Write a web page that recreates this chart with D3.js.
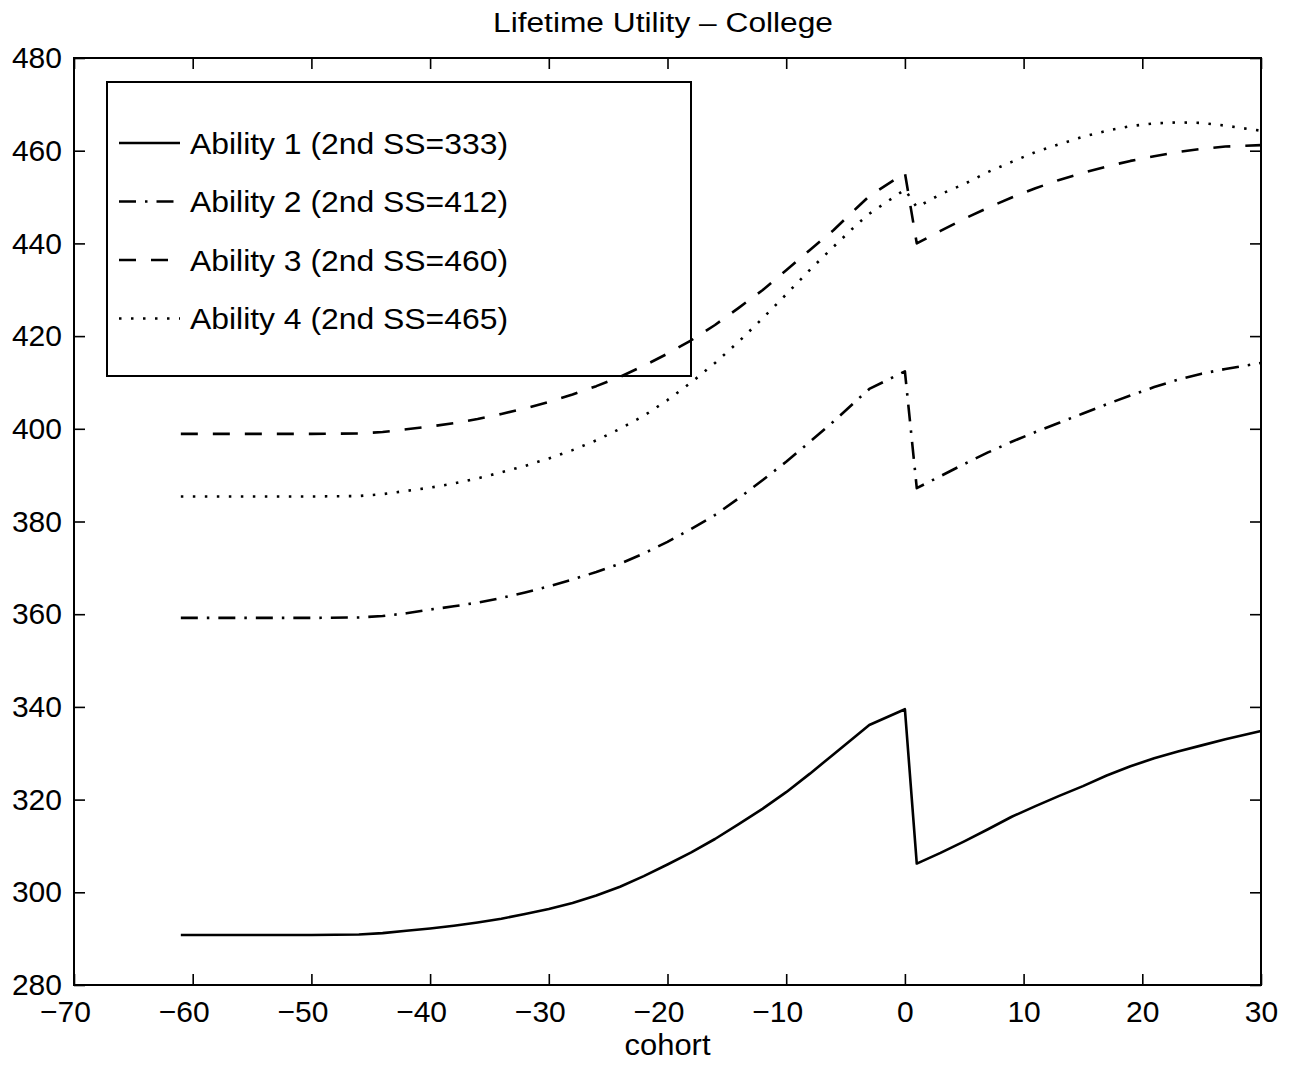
<!DOCTYPE html>
<html>
<head>
<meta charset="utf-8">
<script src="https://cdn.jsdelivr.net/npm/d3@7"></script>
<style>
    body { margin: 0; background: #fff; }
    text { font-family: "Liberation Sans", Arial, Helvetica, sans-serif; fill: #000; }
</style>
</head>
<body>
<div id="chart"></div>
<script>
var cohorts = [-61, -55, -50, -46, -44, -42, -40, -38, -36, -34, -32, -30, -28, -26, -24, -22, -20,
    -18, -16, -14, -12, -10, -8, -6, -4, -3, 0, 1, 3, 5, 7, 9, 11, 13, 15, 17, 19, 21, 23, 25, 27, 30];

var ability1 = [290.8, 290.8, 290.8, 290.9, 291.2, 291.7, 292.2, 292.8, 293.5, 294.3, 295.3, 296.4, 297.7,
    299.3, 301.2, 303.5, 306.0, 308.6, 311.5, 314.7, 318.0, 321.6, 325.6, 329.8, 334.0, 336.1, 339.5,
    306.2, 308.5, 311.0, 313.6, 316.3, 318.6, 320.8, 322.9, 325.2, 327.2, 328.9, 330.4, 331.7, 333.0, 334.8];

var ability2 = [359.2, 359.2, 359.2, 359.3, 359.6, 360.2, 361.0, 361.7, 362.5, 363.5, 364.7, 366.0, 367.5,
    369.1, 370.9, 373.1, 375.6, 378.4, 381.4, 385.0, 388.9, 392.9, 397.2, 401.6, 406.3, 408.6, 412.4,
    387.2, 389.8, 392.4, 394.9, 397.2, 399.3, 401.3, 403.3, 405.3, 407.2, 409.0, 410.6, 411.9, 412.9, 414.2];

var ability3 = [398.9, 398.9, 398.9, 399.0, 399.3, 399.9, 400.5, 401.2, 402.1, 403.2, 404.4, 405.8, 407.4,
    409.2, 411.2, 413.6, 416.2, 419.1, 422.4, 426.1, 429.9, 434.2, 438.6, 442.9, 447.8, 450.2, 455.2,
    440.0, 442.7, 445.3, 447.7, 449.9, 451.9, 453.7, 455.2, 456.6, 457.8, 458.8, 459.7, 460.4, 460.9, 461.2];

var ability4 = [385.4, 385.4, 385.4, 385.5, 385.9, 386.6, 387.3, 388.2, 389.3, 390.6, 392.0, 393.6, 395.4,
    397.5, 400.0, 402.8, 406.2, 410.0, 414.2, 418.8, 423.8, 429.0, 434.3, 439.3, 444.2, 446.4, 451.6,
    447.8, 450.6, 452.8, 455.4, 457.6, 459.7, 461.4, 463.0, 464.3, 465.3, 465.9, 466.1, 466.0, 465.4, 464.3];

var seriesNames = ["Ability 1 (2nd SS=333)", "Ability 2 (2nd SS=412)",
    "Ability 3 (2nd SS=460)", "Ability 4 (2nd SS=465)"];
var seriesDash = ["none", "17,9,2.5,9", "17,15", "2.5,9.5"];

var xTicks = [-70, -60, -50, -40, -30, -20, -10, 0, 10, 20, 30];
var yTicks = [280, 300, 320, 340, 360, 380, 400, 420, 440, 460, 480];

// set the dimensions and margins of the graph
var margin = { top: 58, right: 37, bottom: 80, left: 74 },
    width = 1298 - margin.left - margin.right,
    height = 1065 - margin.top - margin.bottom;

var svg = d3.select("#chart")
    .append("svg")
    .attr("width", 1298)
    .attr("height", 1065)
    .append("g")
    .attr("transform", "translate(" + margin.left + "," + margin.top + ")");

var x = d3.scaleLinear().domain([-70, 30]).range([0, width]);
var y = d3.scaleLinear().domain([280, 480]).range([height, 0]);

var fmt = d3.format("d");

// ticks point inward on all four sides, like the matlab box
var xAxis = svg.append("g")
    .attr("transform", "translate(0," + height + ")")
    .call(d3.axisBottom(x).tickValues(xTicks).tickFormat(fmt).tickSizeInner(-11).tickSizeOuter(0).tickPadding(16));
xAxis.selectAll("text")
    .style("font-size", "30px")
    .attr("dx", function (d) { return d < 0 ? "-0.3em" : 0; });

var yAxis = svg.append("g")
    .call(d3.axisLeft(y).tickValues(yTicks).tickFormat(fmt).tickSizeInner(-11).tickSizeOuter(0).tickPadding(12));
yAxis.selectAll("text").style("font-size", "30px");

svg.append("g")
    .call(d3.axisTop(x).tickValues(xTicks).tickFormat("").tickSizeInner(-11).tickSizeOuter(0));
svg.append("g")
    .attr("transform", "translate(" + width + ",0)")
    .call(d3.axisRight(y).tickValues(yTicks).tickFormat("").tickSizeInner(-11).tickSizeOuter(0));

svg.selectAll(".domain").remove();
svg.selectAll(".tick line").attr("stroke", "#000").attr("stroke-width", 1.6);

// plot box
svg.append("rect")
    .attr("width", width)
    .attr("height", height)
    .attr("fill", "none")
    .attr("stroke", "#000")
    .attr("stroke-width", 2);

// legend box (no fill, the lines run over it)
var legend = svg.append("g").attr("transform", "translate(" + (107 - margin.left) + "," + (82 - margin.top) + ")");
legend.append("rect")
    .attr("width", 584)
    .attr("height", 294)
    .attr("fill", "none")
    .attr("stroke", "#000")
    .attr("stroke-width", 2);

seriesNames.forEach(function (name, i) {
    var cy = 61 + i * 58.5;
    legend.append("line")
        .attr("x1", 12).attr("x2", 73)
        .attr("y1", cy).attr("y2", cy)
        .attr("stroke", "#000")
        .attr("stroke-width", 2.6)
        .attr("stroke-dasharray", seriesDash[i]);
    legend.append("text")
        .attr("x", 83)
        .attr("y", cy + 10.5)
        .attr("textLength", 318)
        .attr("lengthAdjust", "spacingAndGlyphs")
        .style("font-size", "30px")
        .text(name);
});

// the four lines
var line = d3.line()
    .x(function (d) { return x(d[0]); })
    .y(function (d) { return y(d[1]); });

[ability1, ability2, ability3, ability4].forEach(function (vals, i) {
    svg.append("path")
        .datum(cohorts.map(function (c, j) { return [c, vals[j]]; }))
        .attr("d", line)
        .attr("fill", "none")
        .attr("stroke", "#000")
        .attr("stroke-width", 2.6)
        .attr("stroke-linejoin", "round")
        .attr("stroke-dasharray", seriesDash[i]);
});

// title and x label
svg.append("text")
    .attr("x", 663 - margin.left)
    .attr("y", 32 - margin.top)
    .attr("text-anchor", "middle")
    .attr("textLength", 340)
    .attr("lengthAdjust", "spacingAndGlyphs")
    .style("font-size", "27px")
    .text("Lifetime Utility \u2013 College");

svg.append("text")
    .attr("x", width / 2)
    .attr("y", 1055 - margin.top)
    .attr("text-anchor", "middle")
    .attr("textLength", 86)
    .attr("lengthAdjust", "spacingAndGlyphs")
    .style("font-size", "29px")
    .text("cohort");
</script>
</body>
</html>
